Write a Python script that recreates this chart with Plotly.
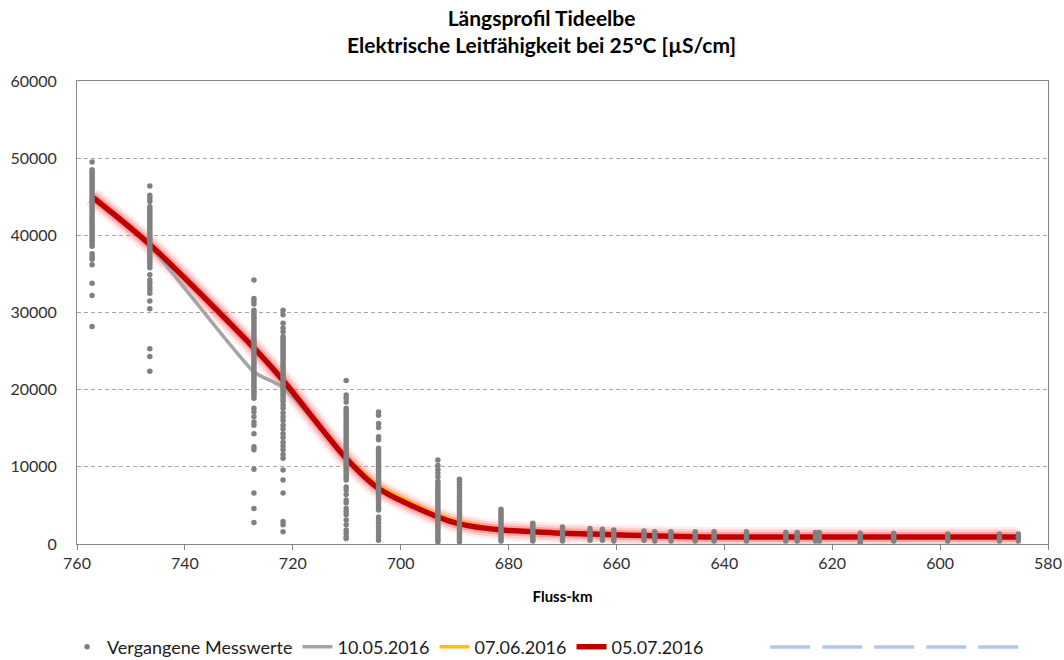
import plotly.graph_objects as go

# ---------------- data ----------------
# past measurements ("Vergangene Messwerte") per measuring station (Fluss-km)
m757 = [49500, 48500, 48200, 47900, 47600, 47300, 47000, 46700, 46400, 46100, 45800, 45500, 45200,
        44900, 44600, 44300, 44000, 43700, 43400, 43100, 42800, 42500, 42200, 41900, 41600, 41300,
        41000, 40700, 40400, 40100, 39800, 39500, 39200, 38900, 38600, 37600, 37200, 36900, 36200,
        33800, 32200, 28200]
m746 = [46400, 45200, 44800, 44400, 43700, 43400, 43100, 42800, 42500, 42200, 41900, 41600, 41300,
        41000, 40700, 40400, 40100, 39800, 39500, 39200, 38900, 38600, 38300, 38000, 37700, 37400,
        37100, 36800, 36500, 36200, 35800, 34900, 34200, 33800, 33300, 32900, 32500, 31500, 30500,
        25300, 24300, 22400]
m727 = [34200, 31800, 31500, 31100, 30300, 30000, 29700, 29400, 29100, 28800, 28500, 28200, 27900,
        27600, 27300, 27000, 26700, 26400, 26100, 25800, 25500, 25200, 24900, 24600, 24300, 24000,
        23700, 23400, 23100, 22800, 22500, 22200, 21900, 21600, 21300, 21000, 20700, 20400, 20100,
        19800, 19500, 19200, 18900, 17600, 17100, 16500, 15800, 15400, 14300, 12600, 12200, 9700,
        6600, 4600, 2800]
m722 = [30300, 29700, 28600, 28000, 27500, 26900, 26600, 26300, 26000, 25700, 25400, 25100, 24800,
        24500, 24200, 23900, 23600, 23300, 23000, 22700, 22400, 22100, 21800, 21500, 21200, 20900,
        20600, 20300, 20000, 19700, 19400, 19100, 18800, 18500, 18000, 17600, 17000, 16500, 16000,
        15400, 14900, 14300, 13800, 13200, 12700, 12200, 11600, 11100, 9600, 8300, 6600, 2900, 2500,
        1600]
m710 = [21200, 19300, 18900, 18400, 17600, 17300, 17000, 16700, 16400, 16100, 15800, 15500, 15200,
        14900, 14600, 14300, 14000, 13700, 13400, 13100, 12800, 12500, 12200, 11900, 11600, 11300,
        11000, 10700, 10400, 10100, 9800, 9500, 9200, 8900, 8600, 8300, 7400, 7000, 6400, 5700, 5300,
        4600, 4200, 3800, 3100, 2500, 1800, 1400, 950, 700]
m704 = [17100, 16700, 15600, 15100, 13900, 13500, 12400, 12100, 11800, 11500, 11200, 10900, 10600,
        10300, 10000, 9700, 9400, 9100, 8800, 8500, 8200, 7900, 7600, 7300, 7000, 6700, 6400, 6100,
        5800, 5500, 5200, 4900, 4600, 4400, 3500, 3100, 2700, 2200, 1800, 1400, 950, 500]
m693 = [10900, 10200, 9700, 9200, 8700, 8100, 7800, 7500, 7200, 6900, 6600, 6300, 6000, 5700, 5400,
        5100, 4800, 4500, 4200, 3900, 3600, 3300, 3000, 2700, 2400, 2100, 1800, 1500, 1200, 900, 600,
        300]
m689 = [8400, 8100, 7700, 7300, 6900, 6500, 6100, 5700, 5400, 5100, 4800, 4500, 4200, 3900, 3600,
        3300, 3000, 2700, 2400, 2100, 1800, 1500, 1200, 900, 600, 300]
m681 = [4500, 4200, 3900, 3600, 3300, 3000, 2700, 2400, 2100, 1800, 1500, 1200, 900, 600, 400]
m675 = [2700, 2400, 2100, 1800, 1500, 1200, 900, 600, 400]
m670 = [2200, 1900, 1600, 1300, 1000, 700, 400]
m665 = [2000, 1700, 1400, 1100, 800, 500]
m663 = [1900, 1600, 1300, 1000, 700, 500]
m660 = [1800, 1500, 1200, 900, 600, 400]
m655 = [1700, 1400, 1100, 800, 500]
m653 = [1600, 1300, 1000, 700, 400]
m650 = [1600, 1300, 1000, 700, 400]
m645 = [1600, 1300, 1000, 700, 400]
m642 = [1600, 1300, 1000, 700, 400]
m636 = [1600, 1300, 1000, 700, 400]
m629 = [1500, 1200, 900, 600, 400]
m627 = [1500, 1200, 900, 600, 400]
m623 = [1500, 1200, 900, 600, 400]
m622 = [1500, 1200, 900, 600, 400]
m615 = [1400, 1100, 800, 500, 250, 50]
m609 = [1400, 1100, 800, 500, 400]
m599 = [1300, 1000, 700, 400]
m589 = [1300, 1000, 700, 400]
m585 = [1300, 1000, 700, 400]

station_km = [757.2, 746.5, 727.2, 721.8, 710.1, 704.1, 693.1, 689.1, 681.4, 675.5, 670.0, 664.9,
              662.6, 660.5, 654.9, 652.9, 649.9, 645.4, 641.9, 635.9, 628.6, 626.5, 623.1, 622.4,
              614.8, 608.6, 598.6, 589.0, 585.5]
station_vals = [m757, m746, m727, m722, m710, m704, m693, m689, m681, m675, m670, m665, m663, m660,
                m655, m653, m650, m645, m642, m636, m629, m627, m623, m622, m615, m609, m599, m589,
                m585]

# profile lines
line_km = [757.2, 746.5, 727.2, 721.8, 710.1, 704.1, 693.1, 689.1, 681.4, 675.5, 670.0, 664.9,
           660.5, 654.9, 649.9, 645.4, 641.9, 635.9, 628.6, 623.1, 614.8, 608.6, 598.6, 589.0, 585.5]
v_10_05 = [45000, 38600, 22300, 20300, 11200, 7300, 3600, 2700, 1800, 1600, 1400, 1300, 1200, 1100,
           1000, 950, 900, 900, 900, 900, 900, 900, 900, 900, 900]
v_07_06 = [45000, 38900, 25500, 21300, 11300, 7600, 3800, 2900, 1900, 1650, 1450, 1300, 1200, 1100,
           1000, 950, 900, 900, 900, 900, 900, 900, 900, 900, 900]
v_05_07 = [45000, 38800, 25400, 21200, 11100, 7200, 3500, 2600, 1800, 1600, 1400, 1300, 1200, 1100,
           1000, 950, 900, 900, 900, 900, 900, 900, 900, 900, 900]

title_lines = ["Längsprofil Tideelbe", "Elektrische Leitfähigkeit bei 25°C [µS/cm]"]
x_title = "Fluss-km"

# ---------------- figure ----------------
FONT = "Lato"
sx, sy = [], []
for km, vals in zip(station_km, station_vals):
    for v in vals:
        sx.append(km)
        sy.append(v)

fig = go.Figure()

# soft glow of the red line
for w, c in [(20, "rgba(255,110,110,0.13)"), (15, "rgba(255,90,90,0.20)"), (10, "rgba(240,70,70,0.30)")]:
    fig.add_trace(go.Scatter(x=line_km, y=v_05_07, mode="lines", showlegend=False, hoverinfo="skip",
                             line=dict(color=c, width=w, shape="spline", smoothing=0.8)))

fig.add_trace(go.Scatter(x=line_km, y=v_10_05, mode="lines", name="10.05.2016", legendrank=2,
                         line=dict(color="#A5A5A5", width=3.5, shape="spline", smoothing=0.5)))
fig.add_trace(go.Scatter(x=line_km, y=v_07_06, mode="lines", name="07.06.2016", legendrank=3,
                         line=dict(color="#FFC000", width=3.5, shape="spline", smoothing=0.8)))
fig.add_trace(go.Scatter(x=line_km, y=v_05_07, mode="lines", name="05.07.2016", legendrank=4,
                         line=dict(color="#C00000", width=5.5, shape="spline", smoothing=0.8)))
fig.add_trace(go.Scatter(x=sx, y=sy, mode="markers", name="Vergangene Messwerte", legendrank=1,
                         marker=dict(color="#808080", size=5.5, line=dict(width=0))))

# unlabeled dashed legend entry
fig.add_shape(type="line", xref="paper", yref="paper", x0=0.714, x1=0.973, y0=-0.2225, y1=-0.2225,
              line=dict(color="#B4C7E7", width=3.5, dash="40px,12px"))

axis_line = "#868686"
fig.update_layout(
    width=1064, height=660, autosize=False,
    margin=dict(l=77, r=16, t=81, b=116, autoexpand=False),
    paper_bgcolor="white", plot_bgcolor="white",
    font=dict(family=FONT, size=16, color="#404040"),
    title=dict(text="<b>" + title_lines[0] + "<br>" + title_lines[1] + "</b>",
               x=0.509, xanchor="center", xref="container", y=0.961, yanchor="top", yref="container",
               font=dict(family=FONT, size=21, color="#000000")),
    showlegend=True,
    legend=dict(orientation="h", xref="container", yref="container", x=0.063, y=(660 - 647) / 660,
                xanchor="left", yanchor="middle", font=dict(family=FONT, size=18, color="#202020"),
                itemwidth=30, tracegroupgap=0, traceorder="normal"),
    xaxis=dict(range=[760, 580], dtick=20, tick0=0, showgrid=False, zeroline=False, automargin=False,
               showline=True, linecolor=axis_line, linewidth=1, mirror=True,
               ticks="outside", ticklen=5, tickcolor=axis_line,
               tickfont=dict(family=FONT, size=16, color="#303030"),
               title=dict(text="<b>" + x_title + "</b>", standoff=20,
                          font=dict(family=FONT, size=15, color="#000000"))),
    yaxis=dict(range=[0, 60000], dtick=10000, showgrid=True, gridcolor="#A6A6A6", gridwidth=1,
               griddash="4px,3px", zeroline=False, showline=True, linecolor=axis_line, linewidth=1,
               mirror=True, ticks="", tickformat="d", ticklabelstandoff=16, automargin=False,
               tickfont=dict(family=FONT, size=16, color="#303030")),
)

fig.write_html("out.html", config={"displayModeBar": False, "responsive": False},
               post_script="document.body.style.margin='0';document.body.style.overflow='hidden';")
